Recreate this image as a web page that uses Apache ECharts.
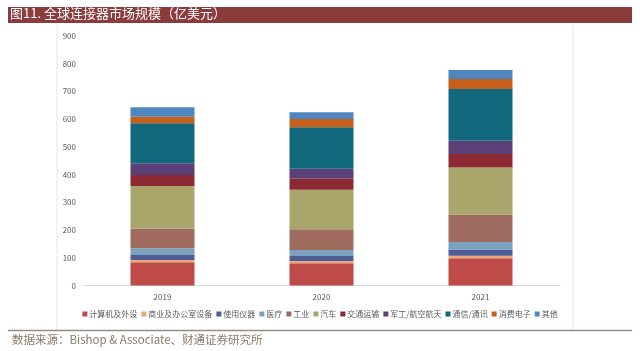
<!DOCTYPE html>
<html><head><meta charset="utf-8">
<script src="https://cdn.jsdelivr.net/npm/echarts@6/dist/echarts.min.js"></script>
<style>html,body{margin:0;padding:0;background:#fff}#c{width:640px;height:351px}</style>
</head><body><div id="c"></div>
<script>
const categories = ['2019', '2020', '2021'];
const seriesNames = ['计算机及外设', '商业及办公室设备', '使用仪器', '医疗', '工业', '汽车', '交通运输', '军工/航空航天', '通信/通讯', '消费电子', '其他'];
const computer = [84, 80, 98];
const office = [8, 8, 9];
const instruments = [18, 18, 23];
const medical = [24, 22, 27];
const industrial = [72, 75, 99];
const auto = [153, 142, 170];
const transport = [40, 40, 48];
const military = [42, 36, 48];
const telecom = [144, 150, 187];
const consumer = [24, 30, 36];
const other = [34, 24, 32];
const yTicks = [0, 100, 200, 300, 400, 500, 600, 700, 800, 900];
const title = '图11. 全球连接器市场规模（亿美元）';
const source = '数据来源：Bishop & Associate、财通证券研究所';

const values = [computer, office, instruments, medical, industrial, auto, transport, military, telecom, consumer, other];
const colors = ['#be4b48', '#e9a77b', '#4e5d95', '#7ba0c0', '#9f6b5f', '#a9a56b', '#8c2a33', '#5b3f77', '#12697e', '#c65f1a', '#4f86c0'];

const chart = echarts.init(document.getElementById('c'), null, {renderer: 'canvas'});
chart.setOption({
  animation: false,
  backgroundColor: '#fff',
  textStyle: {fontFamily: '"Noto Sans CJK SC", "Noto Sans", sans-serif'},
  graphic: [
    {type: 'rect', shape: {x: 8, y: 7, width: 624, height: 16}, style: {fill: '#8a3b3b'}},
    {type: 'text', left: 10, top: 7, style: {text: title, fill: '#ffffff', font: '13px "Noto Sans CJK SC"'}},
    {type: 'line', shape: {x1: 57, y1: 25, x2: 57, y2: 330}, style: {stroke: '#e6e6e6', lineWidth: 1}},
    {type: 'line', shape: {x1: 573, y1: 25, x2: 573, y2: 330}, style: {stroke: '#e6e6e6', lineWidth: 1}},
    {type: 'line', shape: {x1: 8, y1: 330.5, x2: 632, y2: 330.5}, style: {stroke: '#9a8a8a', lineWidth: 1.5}},
    {type: 'text', left: 12, top: 334, style: {text: source, fill: '#8a7a6a', font: '11.5px "Noto Sans CJK SC"'}}
  ],
  grid: {left: 83, right: 80, top: 36, bottom: 65.5},
  legend: {
    data: seriesNames,
    bottom: 28, left: 'center',
    itemWidth: 5, itemHeight: 5, itemGap: 4,
    icon: 'rect',
    textStyle: {fontSize: 8, color: '#595959', padding: [0, 0, 0, -3]}
  },
  xAxis: {
    type: 'category', data: categories,
    axisLine: {lineStyle: {color: '#d9d9d9'}},
    axisTick: {show: false},
    axisLabel: {fontSize: 8, color: '#595959', margin: 7}
  },
  yAxis: {
    type: 'value', min: yTicks[0], max: yTicks[yTicks.length - 1], interval: 100,
    axisLine: {show: false}, axisTick: {show: false},
    splitLine: {show: false},
    axisLabel: {fontSize: 8, color: '#595959', margin: 7}
  },
  series: seriesNames.map((n, i) => ({
    name: n, type: 'bar', stack: 'total', data: values[i], barWidth: 64,
    itemStyle: {color: colors[i]}
  }))
});
</script></body></html>
